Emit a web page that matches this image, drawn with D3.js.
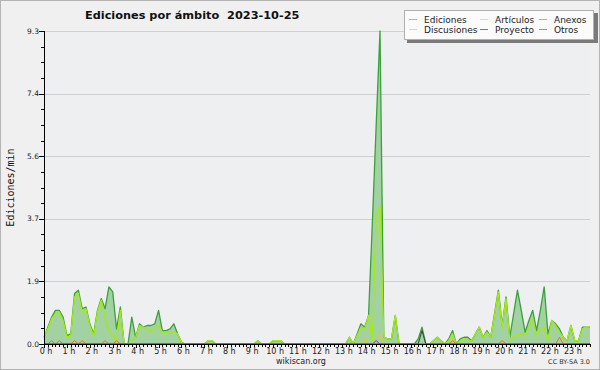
<!DOCTYPE html>
<html><head><meta charset="utf-8">
<script src="https://cdn.jsdelivr.net/npm/d3@7"></script>
<style>html,body{margin:0;padding:0;background:#f0f0f0;}svg{display:block;}</style>
</head><body>
<svg id="c" width="600" height="370"></svg>
<script>
// ---- data (10-minute bins, 144 points, edits/min) ----
const hours = d3.range(0, 24);
const hourLabels = hours.map(h => h + " h");
const yTicks = [0, 1.86, 3.72, 5.58, 7.44, 9.3];
const yTickLabels = ["0.0", "1.9", "3.7", "5.6", "7.4", "9.3"];
const seriesNames = ["Ediciones", "Artículos", "Anexos", "Discusiones", "Proyecto", "Otros"];

// each row = 6 hours, each group = one hour (6 bins)
const ediciones = [
  0.2,0.5,0.8,1.0,1.0,0.8,   0.25,0.3,1.5,1.6,1.05,1.1,  0.6,0.3,1.0,1.35,1.05,1.7,
  1.55,0.45,1.1,0,0,0.8,     0.2,0.6,0.5,0.55,0.55,0.6,  1.0,0.4,0.4,0.45,0.6,0.3,
  0.05,0,0,0,0,0,            0,0.1,0.1,0,0,0,            0,0,0,0,0,0,
  0,0,0.1,0,0,0,             0.1,0.1,0.1,0,0,0,          0,0,0,0,0,0,
  0,0,0,0,0,0,               0,0,0.2,0,0.3,0.6,          0.5,0.85,3.6,6.5,9.3,0.2,
  0.15,0.15,0.85,0,0,0,      0,0,0.15,0.5,0,0,           0.1,0.2,0.1,0,0.15,0.4,
  0,0.15,0.2,0.2,0.1,0.3,    0.5,0.2,0.4,0.2,0.9,1.6,    0.55,1.4,0.2,0.9,1.6,1.0,
  0.35,0.7,1.0,0.4,1.0,1.7,  0.3,0.7,0.6,0.45,0.2,0.1,   0.55,0.1,0.1,0.5,0.5,0.5
];
const articulos = [
  0.2,0.45,0.75,0.9,0.95,0.7, 0.2,0.25,1.4,1.5,0.95,1.05, 0.55,0.25,0.95,1.3,0.8,0.4,
  0.25,0.1,1.0,0,0,0.1,       0.2,0.55,0.5,0.45,0.37,0.45, 0.55,0.35,0.35,0.35,0.37,0.3,
  0.05,0,0,0,0,0,             0,0.1,0.1,0,0,0,             0,0,0,0,0,0,
  0,0,0.1,0,0,0,              0.1,0.1,0.1,0,0,0,           0,0,0,0,0,0,
  0,0,0,0,0,0,                0,0,0.2,0,0.25,0.5,          0.45,0.85,0.1,3.8,4.1,0.2,
  0.15,0.15,0.85,0,0,0,       0,0,0,0,0,0,                 0.1,0.2,0.1,0,0.1,0.3,
  0,0.1,0.15,0.1,0.1,0.3,     0.5,0.2,0.35,0.2,0.85,1.55,  0.5,1.35,0.1,0.2,0.27,0.3,
  0.25,0.5,0.75,0.25,0.4,0.5, 0.1,0.7,0.55,0.35,0.2,0.1,   0.55,0.1,0.1,0.45,0.5,0.5
];
const anexos = [
  0,0,0.1,0,0.1,0,  0,0,0.1,0,0.1,0,  0,0,0,0,0.1,0,  0,0.1,0,0,0,0,  0,0,0,0,0,0,  0,0,0,0,0,0,
  0,0,0,0,0,0,  0,0,0,0,0,0,  0,0,0,0,0,0,  0,0,0,0,0,0,  0,0,0,0,0,0,  0,0,0,0,0,0,
  0,0,0,0,0,0,  0,0,0,0,0,0,  0,0,0,0,0,0,  0,0,0,0,0,0,  0,0,0,0,0,0,  0,0,0,0,0,0.1,
  0,0,0,0,0,0,  0,0,0,0,0,0,  0.1,0,0,0,0,0,  0,0,0,0,0,0,  0,0,0,0.2,0,0,  0,0,0,0,0,0
];
const discusiones = [
  0,0,0,0,0,0,  0,0,0,0,0,0,  0,0,0,0,0,0,  0,0,0,0,0,0,  0,0,0,0,0,0,  0,0,0,0,0,0,
  0,0,0,0,0,0,  0,0,0,0,0,0,  0,0,0,0,0,0,  0,0,0,0,0,0,  0,0,0,0,0,0,  0,0,0,0,0,0,
  0,0,0,0,0,0,  0,0,0,0,0,0,  0.2,0,0,0,0.3,0,  0,0,0,0,0,0,  0,0,0,0,0,0,  0,0,0,0,0,0,
  0,0,0,0,0,0,  0,0,0,0,0,0,  0,0,0,0,0,0,  0,0,0,0,0,0,  0,0,0,0,0,0,  0,0,0,0,0,0
];
const proyecto = [
  0,0,0,0,0,0,  0,0,0,0,0,0,  0,0,0,0,0,0,  0,0,0,0,0,0,  0,0,0,0,0,0,  0,0,0,0,0,0,
  0,0,0,0,0,0,  0,0,0,0,0,0,  0,0,0,0,0,0,  0,0,0,0,0,0,  0,0,0,0,0,0,  0,0,0,0,0,0,
  0,0,0,0,0,0,  0,0,0,0,0,0,  0,0,0,0,0,0,  0,0,0,0,0,0,  0,0,0,0.4,0,0,  0,0,0,0,0,0,
  0,0,0,0,0,0,  0,0,0,0,0,0,  0,0,0,0,0,0,  0,0,0,0,0,0,  0,0,0,0,0,0,  0,0,0,0,0,0
];
const otros = [
  0,0,0,0,0,0,  0,0,0,0,0,0,  0,0,0,0,0,0,  0,0,0,0,0,0,  0,0,0,0,0,0,  0,0,0,0,0,0,
  0,0,0,0,0,0,  0,0,0,0,0,0,  0,0,0,0,0,0,  0,0,0,0,0,0,  0,0,0,0,0,0,  0,0,0,0,0,0,
  0,0,0,0,0,0,  0,0,0,0,0,0,  0,0,0,0.1,0,0,  0,0,0,0,0,0,  0,0,0,0,0,0,  0,0,0,0,0,0,
  0,0,0,0,0,0,  0,0,0,0,0,0,  0,0,0,0,0,0,  0,0,0,0,0,0,  0,0,0,0,0,0,  0,0,0,0,0,0
];

// ---- layout ----
const svg = d3.select("#c");
const W = 600, H = 370;
const L = 44, R = 590, T = 31, B = 344;
const N = ediciones.length;
const x = d3.scaleLinear().domain([0, N - 1]).range([L, R]);
const y = d3.scaleLinear().domain([0, 9.3]).range([B, T]);

svg.append("rect").attr("x", 0.5).attr("y", 0.5).attr("width", W - 1).attr("height", H - 1)
  .attr("fill", "#f0f0f0").attr("stroke", "#b4b4b4");
svg.append("rect").attr("x", L).attr("y", T).attr("width", R - L).attr("height", B - T).attr("fill", "#eeeff1");

// grid
svg.append("g").selectAll("line").data(yTicks.slice(1)).join("line")
  .attr("x1", L).attr("x2", R).attr("y1", d => Math.round(y(d)) + 0.5).attr("y2", d => Math.round(y(d)) + 0.5)
  .attr("stroke", "#cfcfcf").attr("stroke-width", 1);

// area + lines
const idx = d3.range(N);
svg.append("path").datum(idx)
  .attr("d", d3.area().x(i => x(i)).y0(B).y1(i => y(ediciones[i])))
  .attr("fill", "#a2d1a2");

const lineSeries = [
  {v: ediciones, c: "#3aa23a", w: 1.3},
  {v: articulos, c: "#a5ea10", w: 1.3},
  {v: anexos, c: "#f07030", w: 1},
  {v: discusiones, c: "#f5c518", w: 1},
  {v: proyecto, c: "#404040", w: 1},
  {v: otros, c: "#7a3ef0", w: 1}
];
lineSeries.forEach(s => {
  svg.append("path").datum(idx)
    .attr("d", d3.line().x(i => x(i)).y(i => y(s.v[i])))
    .attr("fill", "none").attr("stroke", s.c).attr("stroke-width", s.w).attr("stroke-linejoin", "round");
});

// axes
const ax = svg.append("g").attr("stroke", "#000").attr("shape-rendering", "crispEdges");
ax.append("line").attr("x1", L + 0.5).attr("x2", L + 0.5).attr("y1", T).attr("y2", B + 1);
ax.append("line").attr("x1", L).attr("x2", R + 1).attr("y1", B + 0.5).attr("y2", B + 0.5);
yTicks.forEach((t, k) => {
  const yy = Math.round(y(t)) + 0.5;
  ax.append("line").attr("x1", L - 5).attr("x2", L).attr("y1", yy).attr("y2", yy);
  if (k < yTicks.length - 1) {
    for (let m = 1; m < 4; m++) {
      const ym = Math.round(y(t + yTicks[1] * m / 4)) + 0.5;
      ax.append("line").attr("x1", L - 3).attr("x2", L).attr("y1", ym).attr("y2", ym);
    }
  }
});
idx.forEach(i => {
  const xx = Math.round(x(i)) + 0.5;
  ax.append("line").attr("x1", xx).attr("x2", xx).attr("y1", B).attr("y2", B + (i % 6 === 0 ? 4 : 3));
});

const font = "DejaVu Sans, sans-serif";
svg.append("g").selectAll("text").data(yTicks).join("text")
  .attr("x", L - 5).attr("y", d => y(d)).attr("dy", "0.35em").attr("text-anchor", "end")
  .attr("font-family", font).attr("font-size", 7.5).attr("fill", "#222")
  .text((d, k) => yTickLabels[k]);
svg.append("g").selectAll("text").data(hours).join("text")
  .attr("x", h => x(h * 6) + 2).attr("y", B + 10).attr("text-anchor", "middle")
  .attr("font-family", font).attr("font-size", 8).attr("fill", "#222")
  .text((h, k) => hourLabels[k]);

// titles
svg.append("text").attr("x", 85).attr("y", 18.5).attr("font-family", font).attr("font-weight", "bold")
  .attr("font-size", 11.3).attr("fill", "#111").style("white-space", "pre")
  .text("Ediciones por ámbito  2023-10-25");
svg.append("text").attr("transform", `translate(14,${(T + B) / 2}) rotate(-90)`).attr("text-anchor", "middle")
  .attr("font-family", "DejaVu Sans Mono, monospace").attr("font-size", 10).attr("fill", "#111").text("Ediciones/min");
svg.append("text").attr("x", 301).attr("y", 364).attr("text-anchor", "middle")
  .attr("font-family", font).attr("font-size", 8).attr("fill", "#222").text("wikiscan.org");
svg.append("text").attr("x", 590).attr("y", 364).attr("text-anchor", "end")
  .attr("font-family", font).attr("font-size", 6.5).attr("fill", "#333").text("CC BY-SA 3.0");

// legend
const lg = svg.append("g");
lg.append("rect").attr("x", 407).attr("y", 13).attr("width", 191).attr("height", 30).attr("fill", "#7a7a7a");
lg.append("rect").attr("x", 404.5).attr("y", 10.5).attr("width", 189).attr("height", 29).attr("fill", "#fbfbfb").attr("stroke", "#b0b0b0");
const legColors = ["#8fd08f", "#cdf26e", "#f59a6a", "#f7d66a", "#777777", "#a77cf5"];
const legPos = [[409, 20], [480, 20], [539, 20], [409, 30], [480, 30], [539, 30]];
seriesNames.forEach((name, k) => {
  const p = legPos[k];
  lg.append("line").attr("x1", p[0]).attr("x2", p[0] + 8).attr("y1", p[1] - 0.5).attr("y2", p[1] - 0.5)
    .attr("stroke", legColors[k]).attr("stroke-width", 1);
  lg.append("text").attr("x", p[0] + 15).attr("y", p[1]).attr("dy", "0.35em")
    .attr("font-family", font).attr("font-size", 9).attr("fill", "#222").text(name);
});
</script>
</body></html>
